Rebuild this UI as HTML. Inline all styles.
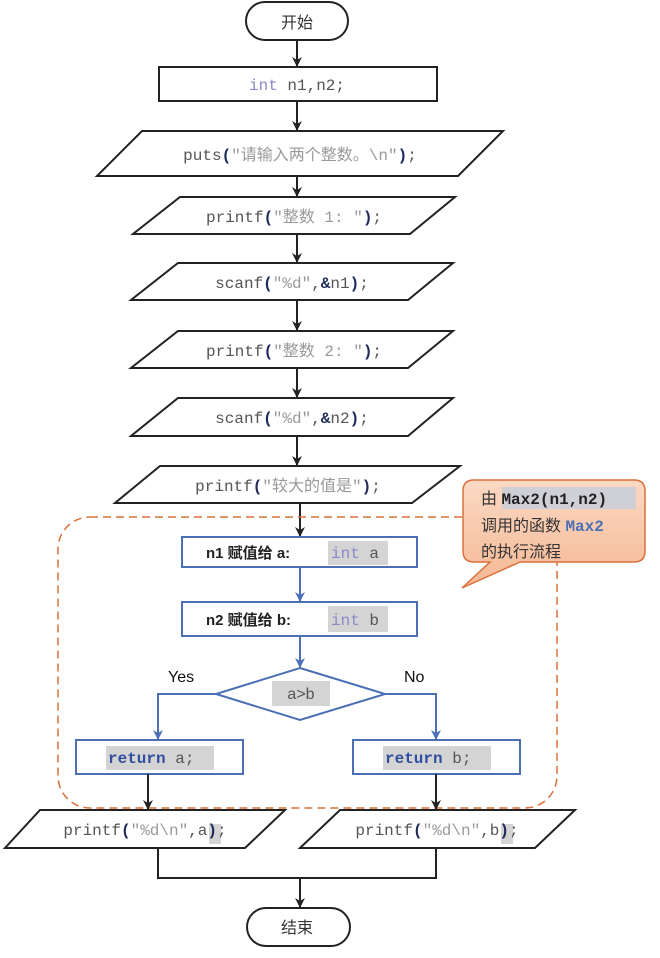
<!DOCTYPE html>
<html><head><meta charset="utf-8"><style>
body{margin:0;background:#fff}
svg text{font-family:"Liberation Mono","Noto Sans CJK SC",monospace;font-size:16px;fill:#555}
.cn{font-family:"Liberation Sans","Noto Sans CJK SC",sans-serif}
.p{fill:#1f2a5c;font-weight:bold}
.s{fill:#999}
.k{fill:#8a8ac8}
.b{fill:#222;font-weight:bold}
</style></head><body>
<svg width="660" height="953" viewBox="0 0 660 953" xmlns="http://www.w3.org/2000/svg">
<defs>
<marker id="ak" markerWidth="10" markerHeight="10" refX="9" refY="5" orient="auto" markerUnits="userSpaceOnUse"><path d="M0,0 L10,5 L0,10 L3,5 z" fill="#222"/></marker>
<marker id="ab" markerWidth="10" markerHeight="10" refX="9" refY="5" orient="auto" markerUnits="userSpaceOnUse"><path d="M0,0 L10,5 L0,10 L3,5 z" fill="#4a6fb5"/></marker>
<linearGradient id="g" x1="0" y1="0" x2="0" y2="1"><stop offset="0" stop-color="#fbd9c4"/><stop offset="1" stop-color="#f5b894"/></linearGradient>
</defs>
<g stroke="#222" stroke-width="2" fill="#fff">
<rect x="246" y="2" width="102" height="38" rx="19"/>
<line x1="297" y1="40" x2="297" y2="66" marker-end="url(#ak)"/>
<rect x="159" y="67" width="278" height="34"/>
<line x1="297" y1="101" x2="297" y2="130" marker-end="url(#ak)"/>
<polygon points="142,131 503,131 458,176 97,176"/>
<line x1="297" y1="176" x2="297" y2="196" marker-end="url(#ak)"/>
<polygon points="180,197 455,197 410,234 133,234"/>
<line x1="297" y1="234" x2="297" y2="262" marker-end="url(#ak)"/>
<polygon points="178,263 453,263 408,300 131,300"/>
<line x1="297" y1="300" x2="297" y2="330" marker-end="url(#ak)"/>
<polygon points="178,331 453,331 408,368 131,368"/>
<line x1="297" y1="368" x2="297" y2="397" marker-end="url(#ak)"/>
<polygon points="178,398 453,398 408,436 131,436"/>
<line x1="297" y1="436" x2="297" y2="465" marker-end="url(#ak)"/>
<polygon points="160,466 460,466 412,503 115,503"/>
<line x1="300" y1="503" x2="300" y2="536" marker-end="url(#ak)"/>
</g>
<rect x="58" y="517" width="499" height="291" rx="32" fill="none" stroke="#d9703a" stroke-width="1.5" stroke-dasharray="8,5"/>
<g stroke="#4a6fb5" stroke-width="2" fill="#fff">
<rect x="182" y="537" width="235" height="30"/>
<line x1="300" y1="567" x2="300" y2="601" marker-end="url(#ab)"/>
<rect x="182" y="602" width="235" height="34"/>
<line x1="300" y1="636" x2="300" y2="667" marker-end="url(#ab)"/>
<polygon points="300,668 385,694 300,720 216,694"/>
<polyline points="216,694 158,694 158,739" fill="none" marker-end="url(#ab)"/>
<polyline points="385,694 436,694 436,739" fill="none" marker-end="url(#ab)"/>
<rect x="76" y="740" width="167" height="34"/>
<rect x="353" y="740" width="167" height="34"/>
</g>
<g stroke="#222" stroke-width="2" fill="#fff">
<line x1="148" y1="774" x2="148" y2="809" marker-end="url(#ak)"/>
<line x1="436" y1="774" x2="436" y2="809" marker-end="url(#ak)"/>
<polygon points="40,810 285,810 245,848 5,848"/>
<polygon points="340,810 575,810 535,848 300,848"/>
<polyline points="158,848 158,878 436,878 436,848" fill="none"/>
<line x1="300" y1="878" x2="300" y2="907" marker-end="url(#ak)"/>
<rect x="247" y="908" width="103" height="38" rx="19"/>
</g>
<path d="M474,480 H634 Q645,480 645,491 V551 Q645,562 634,562 H520 L462,588 L490,562 H474 Q463,562 463,551 V491 Q463,480 474,480 Z" fill="url(#g)" stroke="#d9703a" stroke-width="1.5"/>
<text x="297" y="28" text-anchor="middle" class="cn" style="fill:#333">开始</text>
<text x="297" y="953" text-anchor="middle" class="cn" style="fill:#333" dy="-20">结束</text>
<text x="297" y="90" text-anchor="middle"><tspan class="k">int</tspan> n1,n2;</text>
<text x="300" y="160" text-anchor="middle">puts<tspan class="p">(</tspan><tspan class="s">"请输入两个整数。\n"</tspan><tspan class="p">)</tspan>;</text>
<text x="294" y="222" text-anchor="middle">printf<tspan class="p">(</tspan><tspan class="s">"整数 1: "</tspan><tspan class="p">)</tspan>;</text>
<text x="292" y="288" text-anchor="middle">scanf<tspan class="p">(</tspan><tspan class="s">"%d"</tspan>,<tspan class="p">&amp;</tspan>n1<tspan class="p">)</tspan>;</text>
<text x="294" y="356" text-anchor="middle">printf<tspan class="p">(</tspan><tspan class="s">"整数 2: "</tspan><tspan class="p">)</tspan>;</text>
<text x="292" y="423" text-anchor="middle">scanf<tspan class="p">(</tspan><tspan class="s">"%d"</tspan>,<tspan class="p">&amp;</tspan>n2<tspan class="p">)</tspan>;</text>
<text x="288" y="491" text-anchor="middle">printf<tspan class="p">(</tspan><tspan class="s">"较大的值是"</tspan><tspan class="p">)</tspan>;</text>
<rect x="328" y="541" width="60" height="24" fill="#d4d4d4"/>
<text x="206" y="558" class="b cn" style="font-size:15px">n1 赋值给 a:</text>
<text x="331" y="558"><tspan class="k">int</tspan> a</text>
<rect x="328" y="606" width="60" height="26" fill="#d4d4d4"/>
<text x="206" y="625" class="b cn" style="font-size:15px">n2 赋值给 b:</text>
<text x="331" y="625"><tspan class="k">int</tspan> b</text>
<rect x="272" y="681" width="58" height="25" fill="#d4d4d4"/>
<text x="301" y="699" text-anchor="middle" class="cn">a&gt;b</text>
<text x="168" y="682" class="cn" style="fill:#111">Yes</text>
<text x="404" y="682" class="cn" style="fill:#111">No</text>
<rect x="106" y="746" width="108" height="24" fill="#d4d4d4"/>
<text x="108" y="763"><tspan style="fill:#2f4f9f;font-weight:bold">return</tspan> a;</text>
<rect x="383" y="746" width="108" height="24" fill="#d4d4d4"/>
<text x="385" y="763"><tspan style="fill:#2f4f9f;font-weight:bold">return</tspan> b;</text>
<rect x="209" y="824" width="12" height="20" fill="#d4d4d4"/>
<text x="145" y="835" text-anchor="middle">printf<tspan class="p">(</tspan><tspan class="s">"%d\n"</tspan>,a<tspan class="p">)</tspan>;</text>
<rect x="501" y="824" width="12" height="20" fill="#d4d4d4"/>
<text x="437" y="835" text-anchor="middle">printf<tspan class="p">(</tspan><tspan class="s">"%d\n"</tspan>,b<tspan class="p">)</tspan>;</text>
<rect x="502" y="487" width="134" height="22" fill="#cfcfd6"/>
<text x="481" y="504" class="cn" style="fill:#333">由 <tspan style="font-family:'Liberation Mono',monospace;font-weight:bold;fill:#222">Max2(n1,n2)</tspan></text>
<text x="481" y="531" class="cn" style="fill:#333">调用的函数 <tspan style="font-family:'Liberation Mono',monospace;font-weight:bold;fill:#4a6fb5">Max2</tspan></text>
<text x="481" y="557" class="cn" style="fill:#333">的执行流程</text>
</svg>
</body></html>
